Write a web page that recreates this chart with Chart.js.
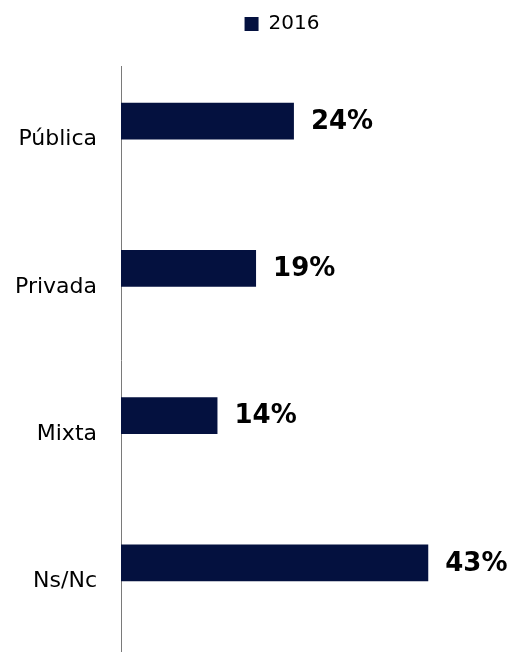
<!DOCTYPE html>
<html>
<head>
<meta charset="utf-8">
<script src="https://cdn.jsdelivr.net/npm/chart.js@4.4.0/dist/chart.umd.min.js"></script>
<style>
  html, body { margin: 0; padding: 0; background: #fff; overflow: hidden; }
  #wrap { width: 514px; height: 692px; }
</style>
</head>
<body>
<div id="wrap"><canvas id="barChart"></canvas></div>
<script>
var categories = ["Pública", "Privada", "Mixta", "Ns/Nc"];
var values2016 = [24.2, 18.9, 13.5, 43.0];
var valueLabels = ["24%", "19%", "14%", "43%"];
var barColor = "#04113f";

// draws the bold % text next to each bar
var valueLabelPlugin = {
    id: 'valueLabels',
    afterInit: function (chart) {
        // leave more room under the legend
        var leg = chart.legend;
        var origFit = leg.fit;
        leg.fit = function () {
            origFit.call(this);
            this.height += 22;
        };
    },
    afterLayout: function (chart) {
        // legend sits a bit right of the page centre
        chart.legend.left += 25;
        chart.legend.right += 25;
    },
    afterDatasetsDraw: function (chart) {
        var ctx = chart.ctx;
        var meta = chart.getDatasetMeta(0);
        ctx.save();
        ctx.font = "bold 26px 'DejaVu Sans'";
        ctx.fillStyle = "#000";
        ctx.textBaseline = "middle";
        ctx.textAlign = "left";
        meta.data.forEach(function (bar, i) {
            ctx.fillText(valueLabels[i], bar.x + 17, bar.y + 1);
        });
        ctx.restore();
    }
};

let chart = new Chart("barChart", {
    type: "bar",
    data: {
        labels: categories,
        datasets: [{
            label: "2016",
            data: values2016,
            backgroundColor: barColor,
            borderWidth: 0
        }, {
            label: "",
            data: [null, null, null, null],
            backgroundColor: "rgba(0,0,0,0)"
        }]
    },
    options: {
        indexAxis: 'y',
        responsive: true,
        maintainAspectRatio: false,
        animation: false,
        categoryPercentage: 0.5,
        barPercentage: 1,
        layout: {
            padding: { left: 0, right: 0, top: 0, bottom: 0 }
        },
        scales: {
            x: {
                display: false,
                min: 0,
                max: 55
            },
            y: {
                afterFit: function (scale) { scale.width = 121; },
                grid: { display: false, drawTicks: false },
                border: { display: true, color: "#7a7a7a", width: 1 },
                ticks: {
                    padding: 24,
                    color: "#000",
                    font: { family: "DejaVu Sans", size: 22 }
                }
            }
        },
        plugins: {
            legend: {
                position: 'top',
                labels: {
                    filter: function (item) { return item.datasetIndex === 0; },
                    boxWidth: 14,
                    boxHeight: 14,
                    color: "#000",
                    font: { family: "DejaVu Sans", size: 20 },
                    padding: 14
                }
            },
            tooltip: { enabled: false }
        }
    },
    plugins: [valueLabelPlugin]
});
</script>
</body>
</html>
